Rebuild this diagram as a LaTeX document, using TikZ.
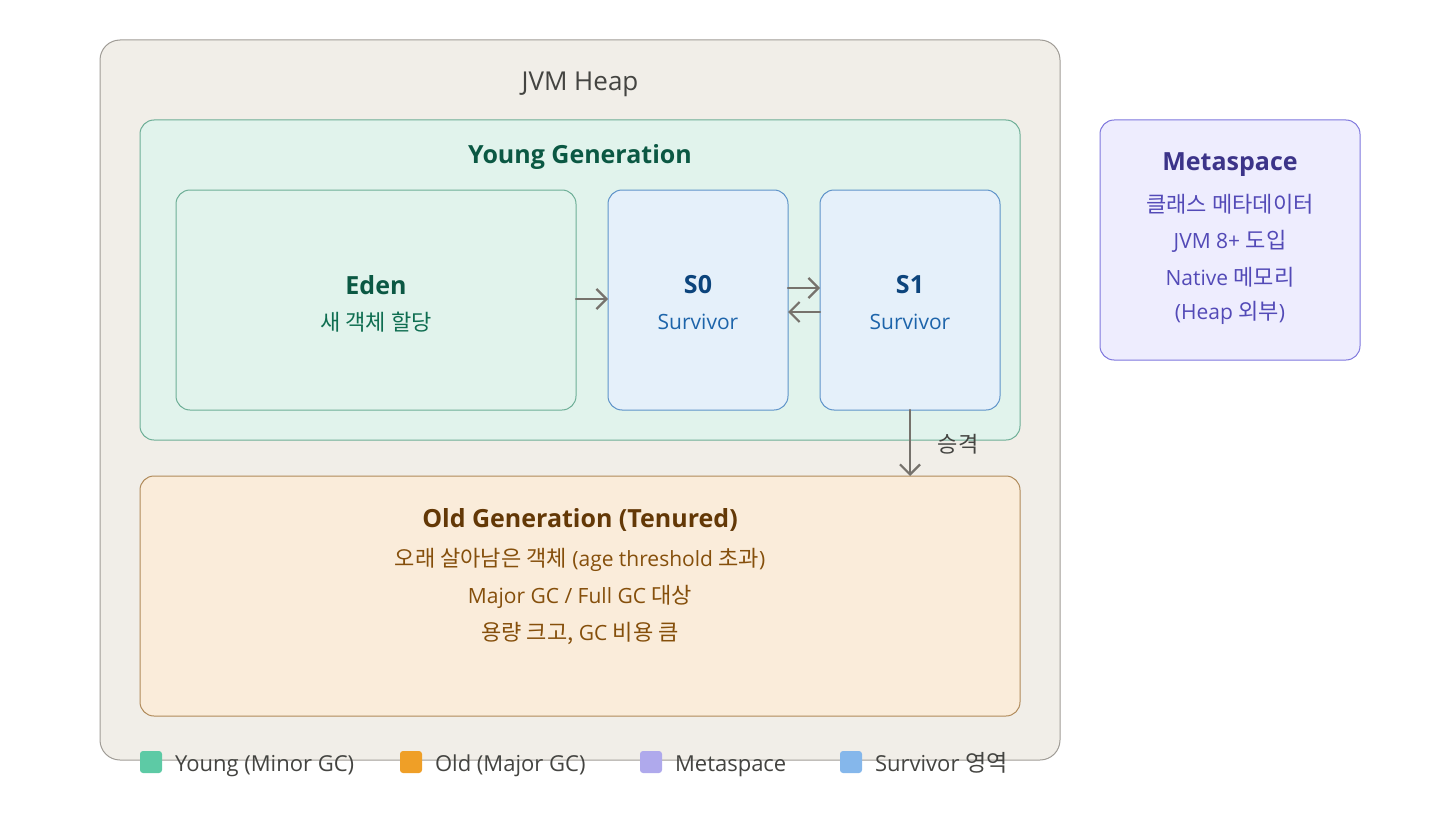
\documentclass[tikz,border=0pt]{standalone}
\usepackage{fontspec}
\setmainfont{Open Sans}
\newfontfamily\kr{Noto Sans CJK KR}[Scale=1.05]
\usetikzlibrary{arrows.meta}

\definecolor{heapfill}{HTML}{F1EEE8}
\definecolor{heapline}{HTML}{A09C96}
\definecolor{heaptext}{HTML}{444441}
\definecolor{youngfill}{HTML}{E1F3EC}
\definecolor{youngline}{HTML}{6DAE96}
\definecolor{youngtext}{HTML}{0B5843}
\definecolor{edentext}{HTML}{0F6E51}
\definecolor{survfill}{HTML}{E5F0FA}
\definecolor{survline}{HTML}{5E93C9}
\definecolor{survtitle}{HTML}{0C447C}
\definecolor{survtext}{HTML}{1D64AA}
\definecolor{oldfill}{HTML}{FAECDA}
\definecolor{oldline}{HTML}{B08A5A}
\definecolor{oldtitle}{HTML}{633806}
\definecolor{oldtext}{HTML}{854F0B}
\definecolor{metafill}{HTML}{EEEDFE}
\definecolor{metaline}{HTML}{7F77DD}
\definecolor{metatitle}{HTML}{3C3489}
\definecolor{metatext}{HTML}{534AB7}
\definecolor{arrowgray}{HTML}{76726C}
\definecolor{lgyoung}{HTML}{5DCAA5}
\definecolor{lgold}{HTML}{EF9F27}
\definecolor{lgmeta}{HTML}{AFA9EC}
\definecolor{lgsurv}{HTML}{85B7EB}

\begin{document}
\begin{tikzpicture}[x=0.5pt, y=-0.5pt, line join=round, line cap=round,
    area/.style={draw, line width=0.5pt, rounded corners=7pt, inner sep=0pt, outer sep=0pt},
    title/.style={font=\fontsize{12.5}{14}\selectfont\bfseries},
    body/.style={font=\fontsize{10.5}{12}\selectfont},
    flow/.style={draw=arrowgray, line width=1.1pt, -{Straight Barb[length=5pt, width=10pt]}},
    key/.style={rounded corners=1.5pt, minimum size=11pt, inner sep=0pt},
    keytext/.style={anchor=base west, text=heaptext, font=\fontsize{11}{13}\selectfont}]
  \useasboundingbox (0,0) rectangle (1440,840);

  % heap and its generations
  \node[area, fill=heapfill, draw=heapline, rounded corners=10pt,
        minimum width=480pt, minimum height=360pt] (heap) at (580,400) {};
  \node[text=heaptext, font=\fontsize{13}{15}\selectfont] (heaptitle) at (580,84) {JVM Heap};

  \node[area, fill=youngfill, draw=youngline, minimum width=440pt, minimum height=160pt] (young) at (580,280) {};
  \node[title, text=youngtext] (youngtitle) at (580,157) {Young Generation};

  \node[area, fill=youngfill, draw=youngline, minimum width=200pt, minimum height=110pt] (eden) at (376,300) {};
  \node[title, text=youngtext] (edentitle) at (376,285) {Eden};
  \node[body, text=edentext] (edensub) at (376,322) {\kr 새 객체 할당};

  \node[area, fill=survfill, draw=survline, minimum width=90pt, minimum height=110pt] (s0) at (698,300) {};
  \node[title, text=survtitle] (s0title) at (698,285) {S0};
  \node[body, text=survtext] (s0sub) at (698,322) {Survivor};

  \node[area, fill=survfill, draw=survline, minimum width=90pt, minimum height=110pt] (s1) at (910,300) {};
  \node[title, text=survtitle] (s1title) at (910,285) {S1};
  \node[body, text=survtext] (s1sub) at (910,322) {Survivor};

  \node[area, fill=oldfill, draw=oldline, minimum width=440pt, minimum height=120pt] (old) at (580,596) {};
  \node[title, text=oldtitle] (oldtitle) at (580,520) {Old Generation (Tenured)};
  \node[body, text=oldtext] (old1) at (580,560) {{\kr 오래 살아남은 객체} (age threshold {\kr 초과})};
  \node[body, text=oldtext] (old2) at (580,597) {Major GC / Full GC {\kr 대상}};
  \node[body, text=oldtext] (old3) at (580,633) {{\kr 용량 크고,} GC {\kr 비용 큼}};

  % metaspace outside the heap
  \node[area, fill=metafill, draw=metaline, minimum width=130pt, minimum height=120pt] (meta) at (1230,240) {};
  \node[title, text=metatitle] (metatitle) at (1230,165) {Metaspace};
  \node[body, text=metatext] (meta1) at (1230,204) {\kr 클래스 메타데이터};
  \node[body, text=metatext] (meta2) at (1230,241) {JVM 8+ {\kr 도입}};
  \node[body, text=metatext] (meta3) at (1230,277) {Native {\kr 메모리}};
  \node[body, text=metatext] (meta4) at (1230,313) {(Heap {\kr 외부})};

  % object moves
  \draw[flow] (eden.east |- 0,299) -- (s0.west |- 0,299);
  \draw[flow] (s0.east |- 0,288) -- (s1.west |- 0,288);
  \draw[flow] (s1.west |- 0,312) -- (s0.east |- 0,312);
  \draw[flow] (s1.south) -- (old.north -| s1.south);
  \node[body, text=heaptext] (promote) at (958,444) {\kr 승격};

  % legend
  \node[key, fill=lgyoung] (kyoung) at (151,762) {};
  \node[keytext] at (168,771) {Young (Minor GC)};
  \node[key, fill=lgold] (kold) at (411,762) {};
  \node[keytext] at (428,771) {Old (Major GC)};
  \node[key, fill=lgmeta] (kmeta) at (651,762) {};
  \node[keytext] at (668,771) {Metaspace};
  \node[key, fill=lgsurv] (ksurv) at (851,762) {};
  \node[keytext] at (868,771) {Survivor {\kr 영역}};
\end{tikzpicture}
\end{document}
